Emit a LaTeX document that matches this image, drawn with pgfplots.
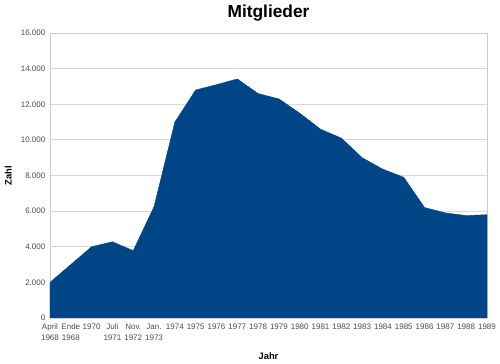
\documentclass[border=0pt]{standalone}
\usepackage{pgfplots}
\pgfplotsset{compat=1.18}
\usepackage{fontspec}
\setmainfont{Liberation Sans}
\definecolor{areablue}{HTML}{004586}
\begin{document}
\begin{tikzpicture}
\useasboundingbox (-37.5pt,-34.5pt) rectangle (337.5pt,238.5pt);
\begin{axis}[
  scale only axis, width=327.75pt, height=213.75pt,
  at={(0,0)}, anchor=south west,
  xmin=0, xmax=21, ymin=0, ymax=16000,
  xtick={0,...,21},
  xticklabels={April\\1968,Ende\\1968,1970,Juli\\1971,Nov.\\1972,Jan.\\1973,1974,1975,1976,1977,1978,1979,1980,1981,1982,1983,1984,1985,1986,1987,1988,1989},
  xticklabel style={align=center, font=\fontsize{6}{8}\selectfont, text=black!70, anchor=north, yshift=-1pt},
  ytick={0,2000,...,16000},
  yticklabel style={font=\fontsize{6}{6}\selectfont, text=black!70},
  /pgf/number format/.cd, 1000 sep={.}, assume math mode=true, /pgfplots/.cd,
  scaled y ticks=false,
  major tick length=0pt,
  ymajorgrids, grid style={black!15, line width=0.6pt},
  axis line style={black!20, line width=0.6pt},
  title={\bfseries Mitglieder}, title style={font=\fontsize{13}{14}\selectfont\bfseries, yshift=-1pt},
  xlabel={\bfseries Jahr}, xlabel style={font=\fontsize{7}{8}\selectfont, yshift=-2pt},
  ylabel={\bfseries Zahl}, ylabel style={font=\fontsize{7}{8}\selectfont, yshift=0pt},
  clip=true,
]
\addplot[fill=areablue, draw=areablue, line width=0.3pt] coordinates {
(0,2000) (1,3000) (2,4000) (3,4280) (4,3780) (5,6250) (6,11000) (7,12800)
(8,13100) (9,13420) (10,12600) (11,12300) (12,11500) (13,10600) (14,10100)
(15,9000) (16,8350) (17,7900) (18,6200) (19,5900) (20,5750) (21,5800)
} \closedcycle;
\end{axis}
\end{tikzpicture}
\end{document}
